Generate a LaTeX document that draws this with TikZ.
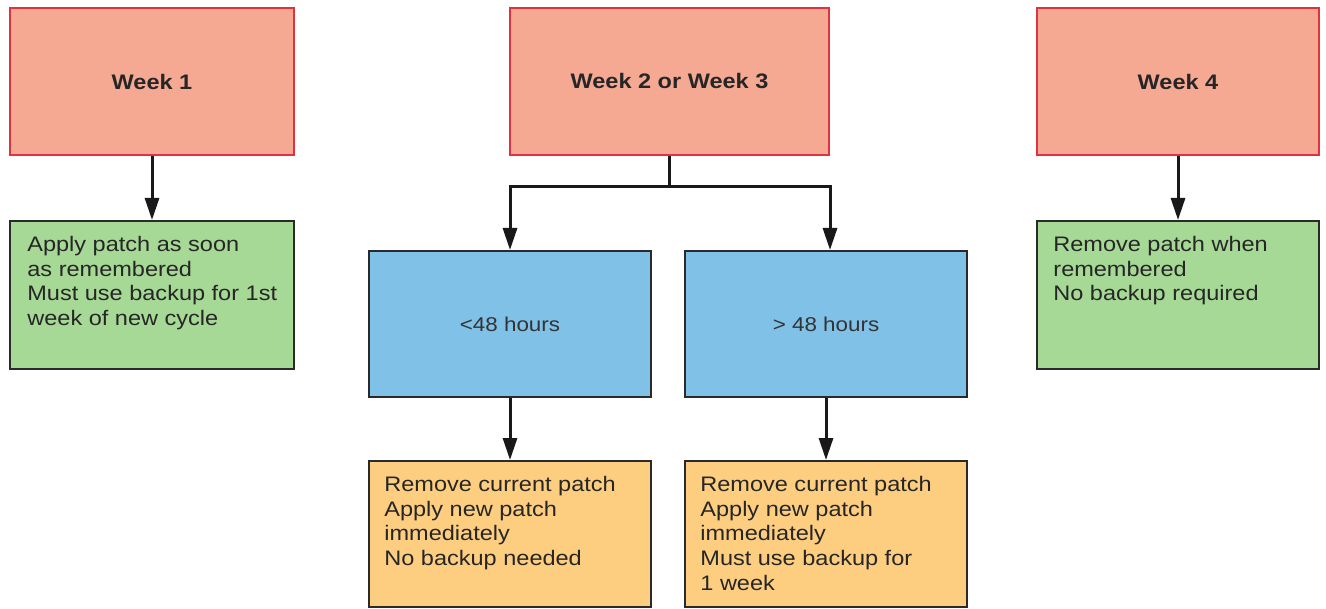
\documentclass[tikz,border=0pt]{standalone}
\usepackage{fontspec}
\setmainfont[FakeStretch=1.12]{Liberation Sans}
\usepackage{xcolor}
\usetikzlibrary{arrows.meta,positioning}
\definecolor{weekc}{HTML}{F5A992}
\definecolor{weekb}{HTML}{E0333F}
\definecolor{greenc}{HTML}{A6D896}
\definecolor{bluec}{HTML}{80C1E8}
\definecolor{yellc}{HTML}{FDCD80}
\definecolor{edgec}{HTML}{2A2A2A}
\tikzset{
  wk/.style={draw=weekb,line width=1pt,fill=weekc,inner sep=0pt,minimum width=142pt,minimum height=73.5pt,font=\fontsize{10.5}{12}\selectfont\bfseries,text=black!85},
  act/.style={draw=edgec,line width=1pt,fill=greenc,inner sep=0pt,minimum width=142pt,minimum height=74pt},
  hrs/.style={draw=edgec,line width=1pt,fill=bluec,inner sep=0pt,minimum width=141pt,minimum height=73pt,font=\fontsize{10}{12.5}\selectfont,text=black!80},
  rem/.style={draw=edgec,line width=1pt,fill=yellc,inner sep=0pt,minimum width=141pt,minimum height=73pt},
  note/.style={anchor=north west,align=left,inner sep=0pt,font=\fontsize{10.5}{12.4}\selectfont,text=black!85},
  ar/.style={-{Triangle[length=11pt,width=7pt]},line width=1.5pt,black!90}
}
\begin{document}
\begin{tikzpicture}[x=0.5pt,y=-0.5pt]
\useasboundingbox (0,0) rectangle (1326,609);
% top row
\node[wk] (w1) at (152,81.5) {Week 1};
\node[wk,minimum width=159.5pt] (w23) at (669.5,81.5) {Week 2 or Week 3};
\node[wk,minimum width=141pt] (w4) at (1178,81.5) {Week 4};
% middle row
\node[act] (g1) at (152,295) {};
\node[hrs] (b1) at (510,324) {<48 hours};
\node[hrs] (b2) at (826,324) {> 48 hours};
\node[act,minimum width=141pt] (g4) at (1178,295) {};
% bottom row
\node[rem] (y1) at (510,534) {};
\node[rem] (y2) at (826,534) {};
% texts
\node[note] at ([shift={(9pt,-7.8pt)}]g1.north west) {Apply patch as soon\\as remembered\\Must use backup for 1st\\week of new cycle};
\node[note] at ([shift={(8.5pt,-7.8pt)}]g4.north west) {Remove patch when\\remembered\\No backup required};
\node[note] at ([shift={(8pt,-7.8pt)}]y1.north west) {Remove current patch\\Apply new patch\\immediately\\No backup needed};
\node[note] at ([shift={(8pt,-7.8pt)}]y2.north west) {Remove current patch\\Apply new patch\\immediately\\Must use backup for\\1 week};
% connectors
\coordinate (fork) at (669.5,187);
\draw[ar] (w1) -- (g1);
\draw[ar] (w4) -- (g4);
\draw[line width=1.5pt,black!90] (w23) -- (fork);
\draw[ar] (fork) -| (b1.north);
\draw[ar] (fork) -| ([xshift=2pt]b2.north);
\draw[ar] (b1) -- (y1);
\draw[ar] (b2) -- (y2);
\end{tikzpicture}
\end{document}
